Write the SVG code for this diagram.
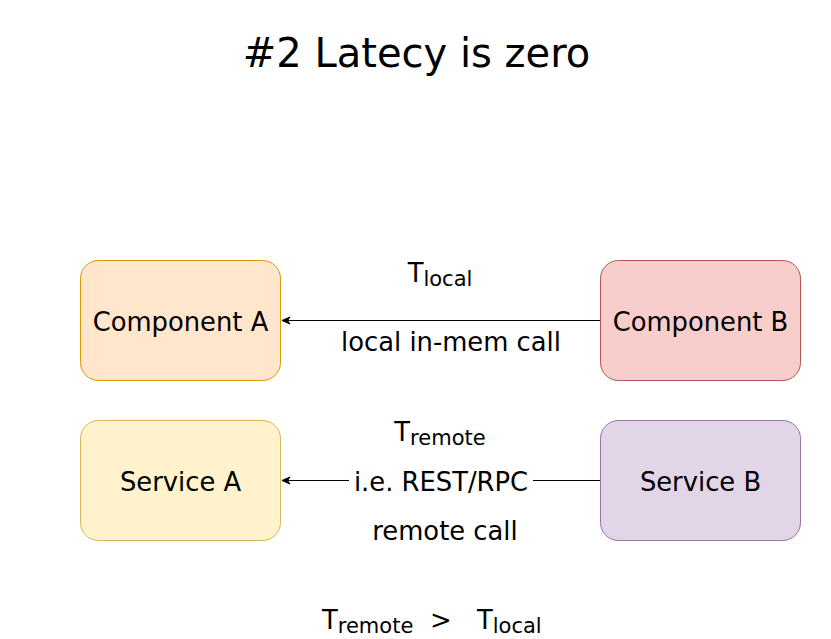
<svg xmlns="http://www.w3.org/2000/svg" width="831" height="639" viewBox="0 0 831 639">
<defs>
<style>
text{font-family:"DejaVu Sans",Verdana,sans-serif;fill:#000;}
.lbl{font-size:25.8px;text-anchor:middle;}
.st{font-size:25.8px;}
.sub{font-size:21px;}
.edge{stroke:#000;stroke-width:1;fill:none;}
</style>
<marker id="arr" markerWidth="10" markerHeight="10" refX="9" refY="5" orient="auto" markerUnits="userSpaceOnUse" viewBox="0 0 10 10">
<path d="M1,1.5 L9,5 L1,8.5 L3.5,5 Z" fill="#000" stroke="#000" stroke-width="1"/>
</marker>
</defs>
<rect width="831" height="639" fill="#fff"/>
<text x="416.5" y="67" style="font-size:40px;text-anchor:middle">#2 Latecy is zero</text>
<g id="connectors">
<path class="edge" d="M600.5,320.5 L282,320.5" marker-end="url(#arr)"/>
<path class="edge" d="M600.5,480.5 L282,480.5" marker-end="url(#arr)"/>
</g>
<g id="compA">
<rect x="80.5" y="260.5" width="200" height="120" rx="18" fill="#ffe6cc" stroke="#d79b00"/>
<text class="lbl" x="180.5" y="331">Component A</text>
</g>
<g id="compB">
<rect x="600.5" y="260.5" width="200" height="120" rx="18" fill="#f8cecc" stroke="#b85450"/>
<text class="lbl" x="700.5" y="331">Component B</text>
</g>
<g id="servA">
<rect x="80.5" y="420.5" width="200" height="120" rx="18" fill="#fff2cc" stroke="#d6b656"/>
<text class="lbl" x="180.5" y="491">Service A</text>
</g>
<g id="servB">
<rect x="600.5" y="420.5" width="200" height="120" rx="18" fill="#e1d5e7" stroke="#9673a6"/>
<text class="lbl" x="700.5" y="491">Service B</text>
</g>
<g id="labels">
<text class="lbl" x="440" y="282">T<tspan class="sub" dy="4">local</tspan></text>
<text class="lbl" x="451" y="351">local in-mem call</text>
<text class="lbl" x="440" y="441">T<tspan class="sub" dy="4">remote</tspan></text>
<rect x="349" y="468" width="184" height="26" fill="#fff"/>
<text class="lbl" x="441" y="491">i.e. REST/RPC</text>
<text class="lbl" x="445" y="540">remote call</text>
<text class="st" x="322" y="629">T<tspan class="sub" dy="4">remote</tspan></text>
<text class="st" x="430" y="629">&gt;</text>
<text class="st" x="477" y="629">T<tspan class="sub" dy="4">local</tspan></text>
</g>
</svg>
